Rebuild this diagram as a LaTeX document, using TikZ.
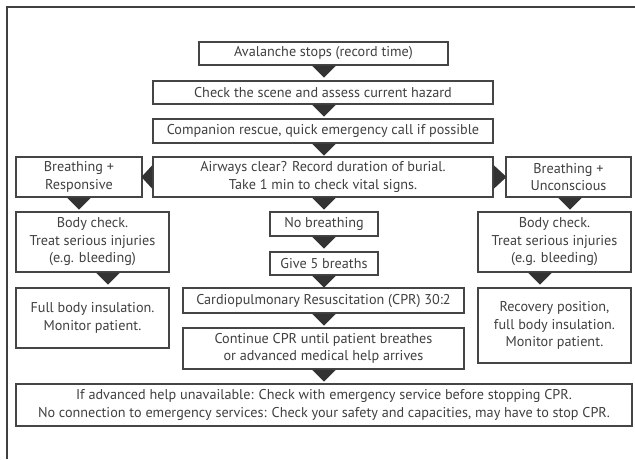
\documentclass[tikz,border=0pt]{standalone}
\usepackage{fontspec}
\setmainfont{PT Sans}
\begin{document}
\begin{tikzpicture}[x=1pt,y=-1pt,
  box/.style={draw=boxc, line width=1.1pt, fill=white, text=txtc, align=center, inner sep=0pt,
    font=\fontsize{14.2}{17.5}\selectfont},
  tri/.style={fill=tric},
]
\definecolor{boxc}{HTML}{454545}
\definecolor{txtc}{HTML}{404040}
\definecolor{tric}{HTML}{333333}
\definecolor{framec}{HTML}{404040}
\useasboundingbox (0,0) rectangle (635,459);
\draw[framec, line width=2.2pt] (7,459) -- (7,7) -- (635,7);

\node[box, minimum width=249, minimum height=23] (b1) at (323.5,53.5) {Avalanche stops (record time)};
\node[box, minimum width=340, minimum height=23] (b2) at (323,92.5) {Check the scene and assess current hazard};
\node[box, minimum width=340, minimum height=24] (b3) at (323,131) {Companion rescue, quick emergency call if possible};
\node[box, minimum width=340, minimum height=40] (b4) at (323,177) {Airways clear? Record duration of burial.\\Take 1 min to check vital signs.};
\node[box, minimum width=126, minimum height=40] (bl) at (79,177) {Breathing +\\Responsive};
\node[box, minimum width=125, minimum height=40] (br) at (568.5,177) {Breathing +\\Unconscious};
\node[box, minimum width=153, minimum height=60] (bl2) at (92.5,242) {Body check.\\Treat serious injuries\\(e.g. bleeding)};
\node[box, minimum width=153, minimum height=60] (br2) at (554.5,242) {Body check.\\Treat serious injuries\\(e.g. bleeding)};
\node[box, minimum width=153, minimum height=60] (bl3) at (92.5,318) {Full body insulation.\\Monitor patient.};
\node[box, minimum width=153, minimum height=75] (br3) at (554.5,325.5) {Recovery position,\\full body insulation.\\Monitor patient.};
\node[box, minimum width=108, minimum height=24] (nb) at (324,224) {No breathing};
\node[box, minimum width=108, minimum height=23] (g5) at (324,263.5) {Give 5 breaths};
\node[box, minimum width=281, minimum height=25] (cpr) at (323.5,300.5) {Cardiopulmonary Resuscitation (CPR) 30:2};
\node[box, minimum width=281, minimum height=41] (cont) at (323.5,348.5) {Continue CPR until patient breathes\\or advanced medical help arrives};
\node[box, minimum width=616, minimum height=42] (bot) at (324,405) {If advanced help unavailable: Check with emergency service before stopping CPR.\\No connection to emergency services: Check your safety and capacities, may have to stop CPR.};

% downward triangles
\foreach \n/\o in {b1/0.5,b2/1,b3/1,b4/1,nb/0,g5/0,cpr/0.5,cont/0.5,bl/0,br/1.5,bl2/15.5,br2/-14.5}
  \fill[tri] (\n.south) ++(\o-12,0) -- ++(24,0) -- ++(-12,12) -- cycle;
% side triangles
\fill[tri] (b4.west) ++(0,-12) -- ++(0,24) -- ++(-11,-12) -- cycle;
\fill[tri] (b4.east) ++(0,-12) -- ++(0,24) -- ++(13,-12) -- cycle;
\end{tikzpicture}
\end{document}
